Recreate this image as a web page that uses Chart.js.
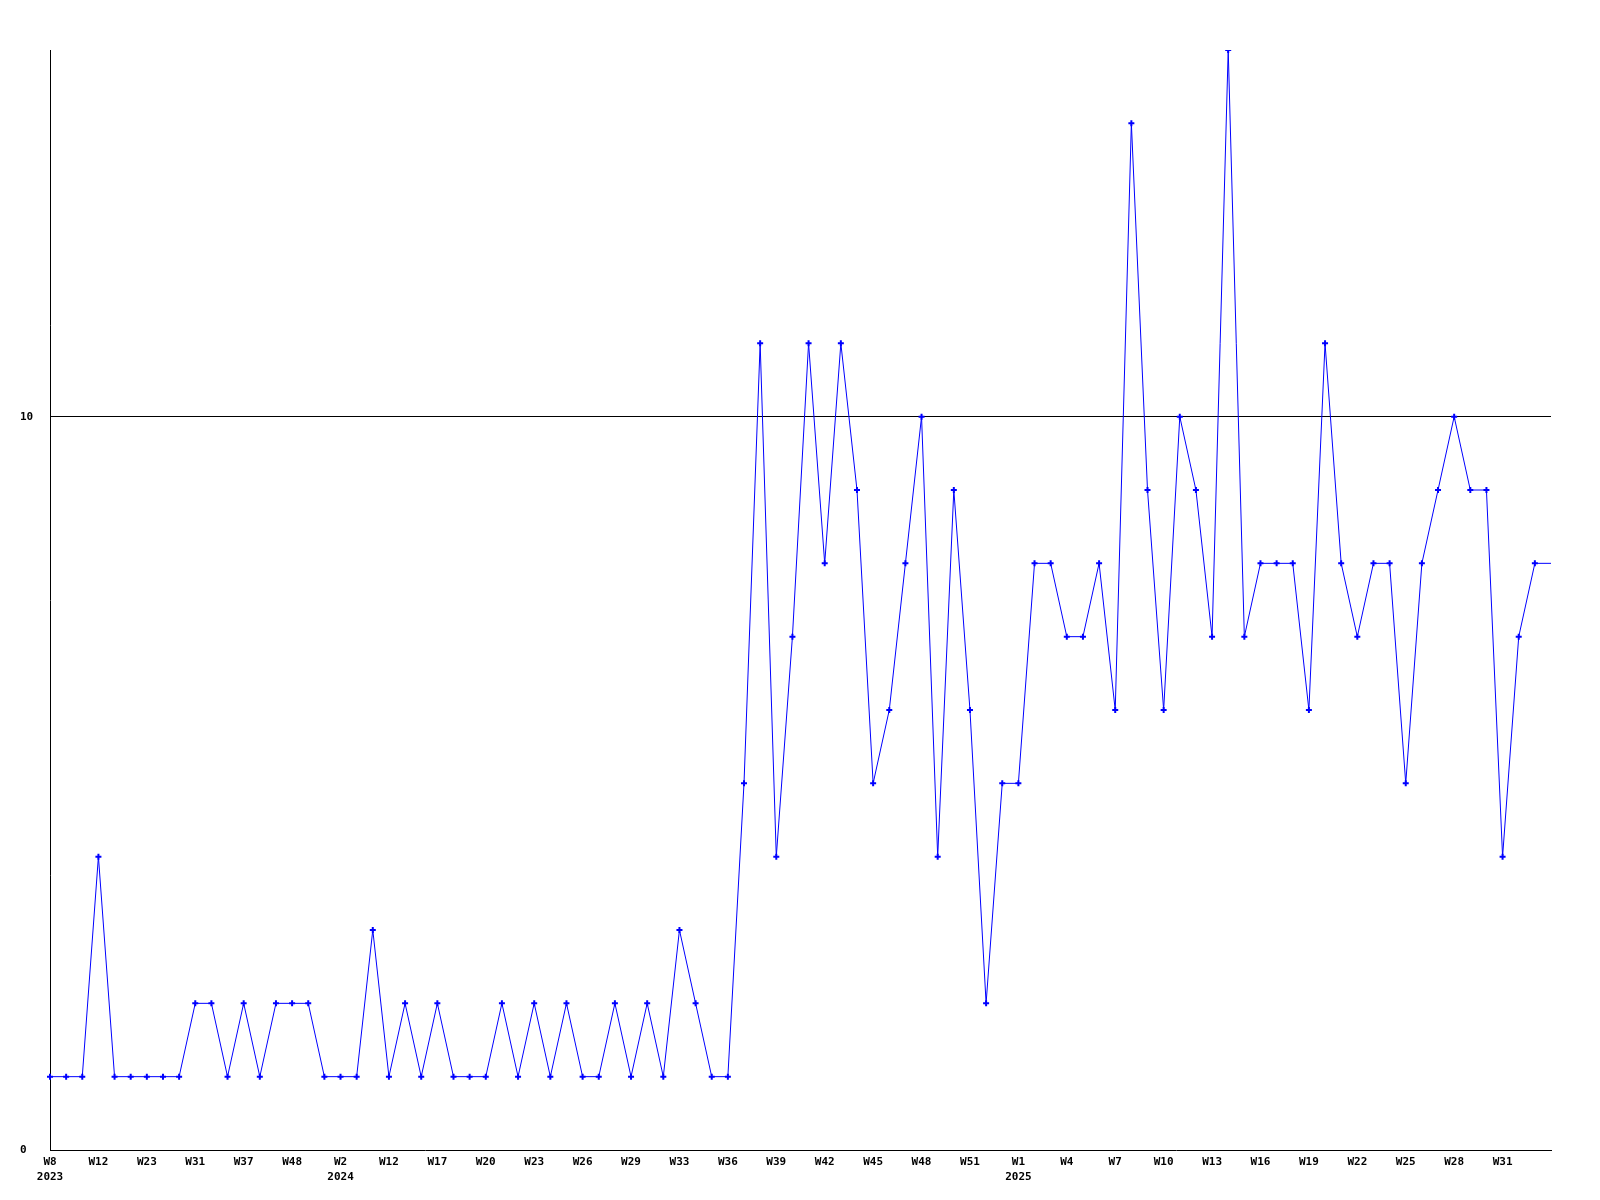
<!DOCTYPE html>
<html>
<head>
<meta charset="utf-8">
<script src="https://cdn.jsdelivr.net/npm/chart.js@4/dist/chart.umd.min.js"></script>
<style>
  html, body { margin: 0; padding: 0; background: #ffffff; }
  canvas { display: block; }
</style>
</head>
<body>
<canvas id="c" width="1600" height="1200"></canvas>
<script>
// Categories: "year week"
const categories = [
  "2023 W8","2023 W9","2023 W10","2023 W12","2023 W14","2023 W17","2023 W23","2023 W25","2023 W28","2023 W31",
  "2023 W33","2023 W35","2023 W37","2023 W40","2023 W44","2023 W48","2023 W50","2023 W52",
  "2024 W2","2024 W5","2024 W9","2024 W12","2024 W14","2024 W15","2024 W17","2024 W18","2024 W19","2024 W20",
  "2024 W21","2024 W22","2024 W23","2024 W24","2024 W25","2024 W26","2024 W27","2024 W28","2024 W29","2024 W30",
  "2024 W31","2024 W33","2024 W34","2024 W35","2024 W36","2024 W37","2024 W38","2024 W39","2024 W40","2024 W41",
  "2024 W42","2024 W43","2024 W44","2024 W45","2024 W46","2024 W47","2024 W48","2024 W49","2024 W50","2024 W51",
  "2024 W52",
  "2025 W0","2025 W1","2025 W2","2025 W3","2025 W4","2025 W5","2025 W6","2025 W7","2025 W8","2025 W9",
  "2025 W10","2025 W11","2025 W12","2025 W13","2025 W14","2025 W15","2025 W16","2025 W17","2025 W18","2025 W19",
  "2025 W20","2025 W21","2025 W22","2025 W23","2025 W24","2025 W25","2025 W26","2025 W27","2025 W28","2025 W29",
  "2025 W30","2025 W31","2025 W32","2025 W33","2025 W34"
];

const values = [
  1,1,1,4,1,1,1,1,1,2,
  2,1,2,1,2,2,2,1,1,1,
  3,1,2,1,2,1,1,1,2,1,
  2,1,2,1,1,2,1,2,1,3,
  2,1,1,5,11,4,7,11,8,11,
  9,5,6,8,10,4,9,6,2,5,
  5,8,8,7,7,8,6,14,9,6,
  10,9,7,15,7,8,8,8,6,11,
  8,7,8,8,5,8,9,10,9,9,
  4,7,8,8
];

const yTickValues = [0, 10];
const yMin = 0;
const yMax = 15;
const labelEvery = 3;

const tickFont = { family: "'DejaVu Sans Mono', monospace", size: 11, weight: 'bold', lineHeight: 1.36 };

new Chart(document.getElementById('c'), {
  type: 'line',
  data: {
    labels: categories,
    datasets: [{
      data: values,
      borderColor: '#0000ff',
      backgroundColor: '#0000ff',
      borderWidth: 1,
      tension: 0,
      fill: false,
      pointStyle: 'cross',
      pointBorderWidth: 2,
      pointRadius: (ctx) => ctx.dataIndex === values.length - 1 ? 0 : 3,
      pointHoverRadius: 3
    }]
  },
  options: {
    responsive: false,
    animation: false,
    devicePixelRatio: 1,
    layout: { padding: { left: 20, top: 50, right: 49, bottom: 0 } },
    plugins: { legend: { display: false }, tooltip: { enabled: false } },
    scales: {
      x: {
        type: 'category',
        offset: false,
        grid: { display: false, drawTicks: false },
        border: { display: true, color: '#000000', width: 1 },
        afterFit: (scale) => { scale.height = 50; },
        ticks: {
          autoSkip: false,
          maxRotation: 0,
          minRotation: 0,
          padding: 5,
          color: '#000000',
          font: tickFont,
          callback: function (value, index) {
            if (index % labelEvery !== 0 || index === categories.length - 1) return '';
            const parts = categories[index].split(' ');
            const prev = index >= labelEvery ? categories[index - labelEvery].split(' ')[0] : null;
            return parts[0] !== prev ? [parts[1], parts[0]] : parts[1];
          }
        }
      },
      y: {
        min: yMin,
        max: yMax,
        afterBuildTicks: (scale) => { scale.ticks = yTickValues.map(v => ({ value: v })); },
        afterFit: (scale) => { scale.width = 30; },
        grid: {
          drawTicks: false,
          color: (ctx) => (ctx.tick && ctx.tick.value === 10) ? '#000000' : 'rgba(0,0,0,0)',
          lineWidth: 1
        },
        border: { display: true, color: '#000000', width: 1 },
        ticks: {
          crossAlign: 'far',
          padding: 0,
          color: '#000000',
          font: tickFont
        }
      }
    }
  }
});
</script>
</body>
</html>
